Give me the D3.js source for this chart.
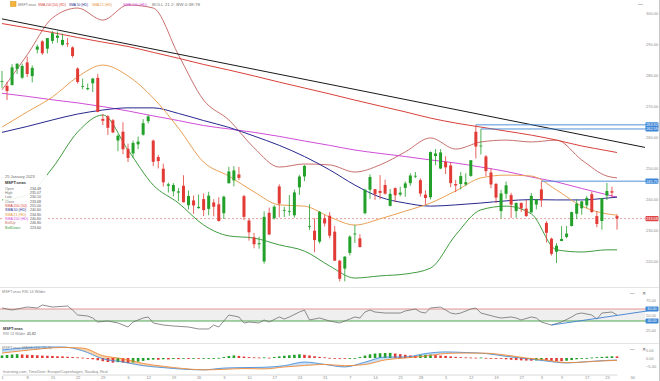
<!DOCTYPE html>
<html>
<head>
<meta charset="utf-8">
<script src="https://cdn.jsdelivr.net/npm/d3@7"></script>
<style>
body { margin: 0; background: #fff; }
svg { display: block; font-family: "Liberation Sans", Arial, sans-serif; }
</style>
</head>
<body>
<div id="chart"></div>
<script>
// daily candles, Aug 1 2022 .. Jan 25 2023  [open, high, low, close]
var ohlc = [
  [277.82,281.28,275.84,278.01],[276.48,277.82,271.94,274.82],[276.76,283.50,276.61,282.47],[281.97,283.72,280.32,283.65],
  [279.15,283.65,278.68,282.91],[284.05,285.92,279.32,280.32],[279.64,283.08,277.61,282.30],[288.17,289.81,286.94,289.16],
  [290.85,291.21,286.51,287.02],[288.48,291.91,286.94,291.91],[291.00,294.18,290.11,293.47],[291.99,294.04,290.42,292.71],
  [289.74,293.35,289.47,291.32],[290.19,291.91,289.08,290.17],[288.90,289.25,285.56,286.15],[282.08,282.46,277.22,277.75],
  [276.44,278.86,275.40,276.44],[275.41,277.23,275.11,275.79],[277.33,279.02,274.52,278.85],[279.08,280.34,267.98,268.09],
  [265.85,267.40,263.85,265.23],[266.67,267.05,260.66,262.97],[265.39,265.78,261.26,261.47],
  [258.87,260.89,255.41,260.40],[261.70,264.74,254.47,256.06],[256.20,257.83,251.94,253.25],[254.70,258.83,253.33,258.09],
  [257.63,260.15,256.06,258.52],[260.74,265.77,260.44,264.46],[265.10,267.04,264.37,266.65],[258.84,259.14,250.58,251.99],
  [253.53,254.22,249.86,252.22],[249.77,251.40,244.02,245.38],[244.26,245.30,242.06,244.74],[242.47,245.14,240.85,244.52],
  [242.07,243.51,239.31,242.45],[244.26,247.66,238.90,238.95],[237.99,242.74,236.64,240.98],[239.54,241.13,235.20,237.92],
  [237.05,241.45,236.90,237.45],[239.98,241.80,234.50,236.41],[236.81,242.33,234.73,241.07],[238.89,239.95,234.41,237.50],
  [238.29,240.54,232.73,232.90],
  [235.41,241.08,233.54,240.74],[245.09,250.36,244.98,248.88],[245.99,250.58,244.10,249.20],[247.93,250.35,246.08,246.79],
  [240.90,241.32,233.17,234.24],[233.05,233.69,226.56,229.25],[227.62,229.06,224.11,225.41],[225.40,227.86,223.96,225.75],
  [219.85,236.00,219.13,234.24],[235.54,237.24,228.34,228.56],[233.77,238.00,233.40,237.53],[244.06,244.74,234.07,238.50],
  [236.27,237.51,234.16,236.48],[235.99,241.31,234.60,236.15],[234.74,243.00,234.02,242.12],[243.76,247.84,241.30,247.25],
  [247.26,251.04,245.75,250.66],[231.17,238.30,230.06,231.32],[229.77,233.81,222.85,226.75],[226.24,236.12,225.64,235.87],
  [233.76,234.92,231.15,232.13],
  [234.60,235.74,227.33,228.17],[229.46,231.30,220.04,220.10],[220.09,220.41,213.43,214.25],[217.55,221.59,213.43,221.39],
  [222.60,228.29,221.80,227.87],[228.58,231.65,225.83,228.87],[227.31,228.63,224.33,224.51],[235.43,243.25,235.03,242.98],
  [242.99,247.99,240.05,247.11],[243.18,243.18,239.71,241.55],[242.60,247.70,239.94,241.97],[244.51,246.23,241.41,241.73],
  [237.78,243.25,237.63,241.68],[243.51,243.74,239.03,241.22],[241.43,243.93,240.88,242.05],[243.59,245.67,240.72,245.03],
  [245.11,248.28,244.27,247.58],[247.31,248.70,246.73,247.49],[246.08,246.65,240.80,241.76],[241.40,242.79,238.21,240.33],
  [240.57,255.33,239.86,255.14],
  [253.87,256.12,250.92,254.69],[249.82,256.06,249.69,255.02],[252.01,253.82,248.06,250.20],[250.82,251.86,243.78,245.12],
  [244.83,246.16,242.21,244.37],[244.84,248.74,243.06,247.40],[244.70,248.31,244.16,245.42],[247.45,252.54,247.17,252.51],
  [261.69,263.92,253.07,256.92],[257.13,262.59,254.31,257.22],[253.72,254.20,247.34,249.01],[248.55,249.84,243.51,244.69],
  [244.86,245.21,238.71,240.45],[236.11,242.91,233.74,241.80],[241.69,245.62,240.11,244.43],[241.26,241.99,233.87,238.19],
  [236.11,238.87,233.94,238.73],[238.70,238.93,235.83,236.96],[236.89,239.72,234.17,234.53],[235.65,241.92,235.65,241.01],
  [238.21,239.96,236.66,239.82],
  [243.08,245.75,237.40,239.58],[232.28,232.87,225.96,229.10],[227.20,227.55,221.76,222.31],[223.00,225.76,219.35,224.93],
  [226.45,231.24,226.41,227.12],[227.76,231.31,227.33,228.85],[231.29,235.95,231.11,235.77],[235.26,239.90,233.56,238.51],
  [237.00,239.37,234.92,239.23],[237.97,240.91,237.09,240.35],[241.57,242.38,235.52,235.81],[234.48,236.06,230.90,231.93],
  [232.90,240.34,230.10,240.22],[241.10,245.21,239.65,242.58],[242.50,243.95,240.44,242.04],[234.48,235.07,230.10,233.68]
];

// indicator lines, every 5th session
var smpIdx = [0,5,10,15,20,25,30,35,40,45,50,55,60,65,70,75,80,85,90,95,100,105,110,115,120,122];
var sma200 = [296.6,295.2,293.7,292.1,290.6,289.2,287.3,285.4,283.4,281.6,279.7,277.7,275.8,273.9,271.9,270.0,268.1,266.1,264.5,263.2,261.9,260.6,259.0,257.1,255.6,255.0];
var sma100 = [274.1,273.1,272.0,271.0,269.8,268.4,266.8,265.3,263.7,262.6,261.5,260.2,258.7,257.3,255.8,254.7,253.7,252.6,251.6,250.3,248.9,247.1,245.5,243.4,241.4,240.6];
var sma50 = [261.5,263.4,265.5,267.4,268.7,269.4,269.4,267.6,265.3,263.1,260.3,257.3,253.7,249.4,244.5,240.6,238.7,237.7,238.1,238.7,239.4,239.8,239.7,239.7,240.3,240.6];
var sma21 = [263.2,268.1,272.9,279.4,283.2,279.7,272.6,262.9,251.9,247.4,242.3,238.1,237.7,234.2,231.6,233.6,236.1,238.7,242.6,246.8,247.7,247.4,242.9,237.7,235.2,234.8];
var bollUp = [275.2,286.5,298.4,301.6,297.7,302.6,301.6,286.5,271.9,265.5,256.5,250.3,251.3,251.0,248.7,251.0,255.2,259.7,256.1,258.4,259.0,258.4,259.0,252.6,247.4,246.8];
var bollDown = [239.7,241.3,250.0,261.6,267.1,255.8,244.5,238.7,231.6,228.1,227.4,225.2,223.2,218.4,214.5,215.2,215.8,217.7,228.4,236.5,237.7,235.2,223.6,222.9,223.6,223.6];

var trendLine = [[0, 298.1], [128, 256.5]];
var levelStart = [94, 95, 107];
var levelValue = [263.92, 262.59, 245.75];
var lastPrice = 233.68;
var priceTicks = [220, 230, 240, 250, 260, 270, 280, 290, 300];

var tickIdx = [0,5,10,15,20,25,29,34,39,44,49,54,59,64,69,74,79,83,88,93,98,103,107,111,116,120,125];
var tickLabels = ["1","8","15","22","29","6","12","19","26","3","10","17","24","31","7","14","21","28","5","12","19","27","3","9","17","23","30"];

// RSI 14
var rsiIdx = [0,2,5,7,8,10,13,14,15,17,18,19,21,23,25,26,28,29,30,32,34,37,39,41,42,43,45,47,48,49,51,52,53,55,56,57,59,60,61,63,65,67,69,70,71,72,73,74,76,79,80,82,83,84,85,87,88,89,90,91,93,94,95,98,99,101,102,103,105,106,107,109,111,113,114,115,117,118,119,121,122];
var rsiVal = [61.7,58.3,63.3,61.7,66.7,63.3,65,58.3,50,48.3,45,38.3,40,36.7,30,38.3,45,46.7,36.7,33.3,31.7,30,26.7,26.7,33.3,30,50,46.7,36.7,38.3,36.7,41.7,38.3,46.7,43.3,46.7,55,58.3,41.7,45,40,36.7,43.3,46.7,45,55,58.3,55,53.3,53.3,56.7,60,55,53.3,61.7,63.3,58.3,53.3,51.7,53.3,60,61.7,53.3,46.7,45,46.7,45,41.7,46.7,45,38.3,33.3,38.3,46.7,51.7,53.3,50,43.3,53.3,55,50];
var rsiTrend = [[109, 33.3], [128, 56.7]];
var rsiTicks = [25, 50, 75];

// MACD 12 26 9
var macdIdx = [0,4,8,12,16,20,24,28,32,36,40,44,48,52,56,60,64,68,72,76,80,84,88,92,96,100,104,108,112,116,120,122];
var macdVal = [5.0,6.2,6.9,6.9,4.5,-0.5,-2.5,-4.8,-6.0,-7.0,-7.4,-6.3,-6.0,-5.8,-4.8,-2.5,-4.0,-5.6,-2.6,0.6,0.6,2.8,3.8,3.4,2.8,1.0,-0.4,-1.9,-3.1,-2.3,-1.5,-1.3];
var signalVal = [3.1,4.5,5.8,6.6,6.2,1.5,-0.5,-3.4,-5.2,-6.6,-7.4,-7.1,-6.6,-6.8,-5.6,-4.7,-4.0,-4.8,-4.1,-1.2,0.0,1.2,2.8,3.1,3.0,1.8,0.0,-1.3,-2.9,-2.4,-1.7,-1.5];
var histVal = [1.6,1.9,2.2,2.4,2.2,2.0,1.9,1.7,1.5,1.4,1.3,1.1,1.0,0.8,0.6,0.4,0.2,-0.3,-0.8,-1.4,
  -2.0,-2.5,-2.9,-2.6,-2.9,-3.2,-2.8,-2.3,-1.8,-1.3,-1.0,-1.1,-0.8,-0.9,-0.6,-0.7,-0.5,-0.6,-0.4,-0.5,
  -0.3,-0.2,-0.1,0.1,0.6,1.2,1.6,1.3,0.9,0.6,0.4,0.3,0.4,0.2,0.6,1.0,1.4,1.7,2.0,2.3,
  2.0,1.6,1.1,0.7,0.4,0.1,-0.2,-0.4,-0.5,-0.3,-0.1,0.6,1.5,2.3,2.8,3.0,3.1,3.2,2.8,2.4,
  2.0,1.6,1.3,1.8,2.0,2.1,1.8,1.5,1.3,1.0,0.7,0.5,0.4,0.3,0.2,0.3,0.1,0.0,-0.2,-0.5,
  -0.8,-1.1,-1.3,-1.5,-1.6,-1.7,-1.5,-1.3,-1.6,-1.8,-1.9,-2.0,-1.7,-1.3,-0.8,-0.4,0.0,0.3,0.5,0.7,
  0.9,1.1,1.0];
var macdTicks = [-5, 0, 5];

var upColor = "#22a02a", downColor = "#e23b36";

var svg = d3.select("#chart").append("svg")
  .attr("width", 660)
  .attr("height", 381);

svg.append("rect").attr("width", 660).attr("height", 381).attr("fill", "#fff");

var x = d3.scaleLinear().domain([0, 122]).range([2, 617]);
var y = d3.scaleLinear().domain([220, 300]).range([261, 13]);
var yRsi = d3.scaleLinear().domain([25, 75]).range([330, 300]);
var yMacd = d3.scaleLinear().domain([-5, 5]).range([366, 350]);

// panel separators
[287.5, 343.5].forEach(function(v) {
  svg.append("line").attr("x1", 0).attr("x2", 660).attr("y1", v).attr("y2", v)
    .attr("stroke", "#e4e4e4").attr("stroke-width", 1);
});
svg.append("line").attr("x1", 659.5).attr("x2", 659.5).attr("y1", 0).attr("y2", 381)
  .attr("stroke", "#c8c8c8");

// ---------- main price panel ----------
svg.append("clipPath").attr("id", "clipMain")
  .append("rect").attr("x", 0).attr("y", 0).attr("width", 645).attr("height", 286);
var main = svg.append("g").attr("clip-path", "url(#clipMain)");

function pts(vals) { return smpIdx.map(function(k, j) { return [k, vals[j]]; }); }
var priceLine = d3.line().x(d => x(d[0])).y(d => y(d[1])).curve(d3.curveMonotoneX);

// close price dashed line
main.append("line")
  .attr("x1", 0).attr("x2", 645)
  .attr("y1", y(lastPrice)).attr("y2", y(lastPrice))
  .attr("stroke", "#e58b8b").attr("stroke-width", 0.8).attr("stroke-dasharray", "2,2");

var lines = [
  { v: bollUp, c: "#c8706e" },
  { v: bollDown, c: "#3f9c3f" },
  { v: sma200, c: "#d9413b" },
  { v: sma100, c: "#d04ed6" },
  { v: sma50, c: "#27288f" },
  { v: sma21, c: "#eaa055" }
];
lines.forEach(function(l) {
  main.append("path").datum(pts(l.v))
    .attr("d", priceLine)
    .attr("fill", "none").attr("stroke", l.c).attr("stroke-width", 1);
});

main.append("path").datum(trendLine)
  .attr("d", d3.line().x(d => x(d[0])).y(d => y(d[1])))
  .attr("stroke", "#1a1a1a").attr("stroke-width", 1).attr("fill", "none");

// horizontal levels
levelStart.forEach(function(s, j) {
  svg.append("line")
    .attr("x1", x(s)).attr("x2", 658)
    .attr("y1", y(levelValue[j])).attr("y2", y(levelValue[j]))
    .attr("stroke", "#3d86d6").attr("stroke-width", 0.9);
});

// candles
main.selectAll("line.wick")
  .data(ohlc)
  .enter()
  .append("line")
  .attr("class", "wick")
  .attr("x1", (d, i) => x(i)).attr("x2", (d, i) => x(i))
  .attr("y1", d => y(d[1])).attr("y2", d => y(d[2]))
  .attr("stroke", d => d[3] >= d[0] ? upColor : downColor)
  .attr("stroke-width", 0.8);

main.selectAll("rect.body")
  .data(ohlc)
  .enter()
  .append("rect")
  .attr("class", "body")
  .attr("x", (d, i) => x(i) - 1.5)
  .attr("width", 3)
  .attr("y", d => y(Math.max(d[0], d[3])))
  .attr("height", d => Math.max(0.8, Math.abs(y(d[0]) - y(d[3]))))
  .attr("fill", d => d[3] >= d[0] ? upColor : downColor);

// price axis
var yAxis = d3.axisRight(y).tickValues(priceTicks).tickFormat(d3.format(".2f")).tickSize(0).tickPadding(0);
svg.append("g")
  .attr("transform", "translate(646,0)")
  .call(yAxis)
  .call(g => g.select(".domain").remove())
  .selectAll("text").attr("font-size", 4).attr("fill", "#8a8a8a");

function tag(yPos, label, color) {
  svg.append("rect").attr("x", 645.5).attr("y", yPos - 2.6).attr("width", 13).attr("height", 5.2)
    .attr("rx", 0.8).attr("fill", color);
  svg.append("text").attr("x", 652).attr("y", yPos + 1.4).attr("text-anchor", "middle")
    .attr("font-size", 3.8).attr("fill", "#fff").text(label);
}
levelValue.forEach(v => tag(y(v), v.toFixed(2), "#3d86d6"));
tag(y(lastPrice), lastPrice.toFixed(2), "#e04848");

// top legend row
svg.append("rect").attr("x", 10.5).attr("y", 1.5).attr("width", 5.5).attr("height", 5)
  .attr("fill", "#f3b23c").attr("stroke", "#d69010").attr("stroke-width", 0.5);
var topLegend = [
  { t: "MSFT:xnas", x: 18, w: 18, c: "#777" },
  { t: "SMA 200 (50) (RD)", x: 38, w: 28, c: "#d9413b" },
  { t: "SMA 50 (HD)", x: 69, w: 19, c: "#27288f" },
  { t: "SMA 21 (HD)", x: 92, w: 20, c: "#e69340" },
  { t: "SMA 100 (HD)", x: 123, w: 24, c: "#d04ed6" },
  { t: "BOLL 21 2; BW 0:38:78", x: 152, w: 48, c: "#777" }
];
topLegend.forEach(function(d) {
  svg.append("text").attr("x", d.x).attr("y", 5.8).attr("font-size", 3.6).attr("fill", d.c)
    .attr("textLength", d.w).attr("lengthAdjust", "spacingAndGlyphs").text(d.t);
});
svg.append("text").attr("x", 638).attr("y", 6).attr("font-size", 5).attr("fill", "#666").text("—");

// left data box
var last = ohlc[ohlc.length - 1];
svg.append("rect").attr("x", 3).attr("y", 173).attr("width", 44).attr("height", 58)
  .attr("fill", "#fff").attr("opacity", 0.9);
svg.append("text").attr("x", 1).attr("y", 178).attr("font-size", 4).attr("fill", "#888").text("-");
svg.append("text").attr("x", 5).attr("y", 178).attr("font-size", 4).attr("fill", "#666").text("25 January 2023");
svg.append("text").attr("x", 5).attr("y", 184).attr("font-size", 4).attr("font-weight", "bold").attr("fill", "#333").text("MSFT:xnas");
var rows = [
  ["Open", last[0], "#777"], ["High", last[1], "#777"], ["Low", last[2], "#777"], ["Close", last[3], "#777"],
  ["SMA 200 (50)", sma200[sma200.length - 1], "#d9413b"], ["SMA 50 (HD)", sma50[sma50.length - 1], "#27288f"],
  ["SMA 21 (HD)", sma21[sma21.length - 1], "#e69340"], ["SMA 100 (HD)", sma100[sma100.length - 1], "#d04ed6"],
  ["BollUp", bollUp[bollUp.length - 1], "#c8706e"], ["BollDown", bollDown[bollDown.length - 1], "#3f9c3f"]
];
rows.forEach(function(r, j) {
  var yy = 189.5 + j * 4.35;
  svg.append("text").attr("x", 5).attr("y", yy).attr("font-size", 3.6).attr("fill", r[2]).text(r[0]);
  svg.append("text").attr("x", 30).attr("y", yy).attr("font-size", 3.6).attr("fill", "#555").text(r[1].toFixed(2));
});

// ---------- RSI panel ----------
svg.append("rect").attr("x", 0).attr("width", 645)
  .attr("y", yRsi(60)).attr("height", yRsi(40) - yRsi(60)).attr("fill", "#efefef");
svg.append("line").attr("x1", 0).attr("x2", 658).attr("y1", yRsi(60)).attr("y2", yRsi(60))
  .attr("stroke", "#e58b8b").attr("stroke-width", 0.9);
svg.append("line").attr("x1", 0).attr("x2", 658).attr("y1", yRsi(40)).attr("y2", yRsi(40))
  .attr("stroke", "#3f9c3f").attr("stroke-width", 0.9);

svg.append("path")
  .datum(rsiIdx.map((k, j) => [k, rsiVal[j]]))
  .attr("d", d3.line().x(d => x(d[0])).y(d => yRsi(d[1])))
  .attr("fill", "none").attr("stroke", "#707070").attr("stroke-width", 0.8);

svg.append("path").datum(rsiTrend)
  .attr("d", d3.line().x(d => x(d[0])).y(d => yRsi(d[1])))
  .attr("fill", "none").attr("stroke", "#3d7fd0").attr("stroke-width", 0.9);

svg.append("g")
  .attr("transform", "translate(646,0)")
  .call(d3.axisRight(yRsi).tickValues(rsiTicks).tickFormat(d3.format(".2f")).tickSize(0).tickPadding(0))
  .call(g => g.select(".domain").remove())
  .selectAll("text").attr("font-size", 4).attr("fill", "#8a8a8a");
function rsiTag(v) {
  svg.append("rect").attr("x", 645.5).attr("y", yRsi(v) - 2.4).attr("width", 13).attr("height", 4.8)
    .attr("rx", 0.8).attr("fill", "#3d86d6");
  svg.append("text").attr("x", 652).attr("y", yRsi(v) + 1.4).attr("text-anchor", "middle")
    .attr("font-size", 3.6).attr("fill", "#fff").text(v.toFixed(2));
}
rsiTag(60);
rsiTag(40);

svg.append("text").attr("x", 2).attr("y", 292.5).attr("font-size", 3.8).attr("fill", "#888").text("MSFT:xnas  RSI 14 Wilder");
svg.append("text").attr("x", 3).attr("y", 329.5).attr("font-size", 3.8).attr("font-weight", "bold").attr("fill", "#333").text("MSFT:xnas");
svg.append("text").attr("x", 3).attr("y", 334.5).attr("font-size", 3.6).attr("fill", "#888").text("RSI 14 Wilder");
svg.append("text").attr("x", 27).attr("y", 334.5).attr("font-size", 3.6).attr("fill", "#444").text("45.82");
svg.append("text").attr("x", 630).attr("y", 295).attr("font-size", 4.5).attr("fill", "#666").text("—");
svg.append("text").attr("x", 642).attr("y", 295).attr("font-size", 4.5).attr("fill", "#666").text("✕");

// ---------- MACD panel ----------
var macdPts = macdIdx.map((k, j) => ({ i: k, m: macdVal[j], s: signalVal[j] }));

svg.append("clipPath").attr("id", "clipAbove").append("path").datum(macdPts)
  .attr("d", d3.area().x(d => x(d.i)).y0(340).y1(d => yMacd(d.s)).curve(d3.curveMonotoneX));
svg.append("clipPath").attr("id", "clipBelow").append("path").datum(macdPts)
  .attr("d", d3.area().x(d => x(d.i)).y0(372).y1(d => yMacd(d.s)).curve(d3.curveMonotoneX));

var between = d3.area().x(d => x(d.i)).y0(d => yMacd(d.s)).y1(d => yMacd(d.m)).curve(d3.curveMonotoneX);
svg.append("path").datum(macdPts).attr("d", between).attr("fill", "#c9def4").attr("clip-path", "url(#clipAbove)");
svg.append("path").datum(macdPts).attr("d", between).attr("fill", "#f9d3ae").attr("clip-path", "url(#clipBelow)");

svg.selectAll("rect.hist")
  .data(histVal)
  .enter()
  .append("rect")
  .attr("class", "hist")
  .attr("x", (d, i) => x(i) - 1.3)
  .attr("width", 2.6)
  .attr("y", d => d >= 0 ? yMacd(d) : yMacd(0))
  .attr("height", d => Math.max(0.8, Math.abs(yMacd(d) - yMacd(0))))
  .attr("fill", (d, i) => (i === 0 || d >= histVal[i - 1]) ? upColor : downColor);

svg.append("path").datum(macdPts)
  .attr("d", d3.line().x(d => x(d.i)).y(d => yMacd(d.m)).curve(d3.curveMonotoneX))
  .attr("fill", "none").attr("stroke", "#4a90d9").attr("stroke-width", 0.9);
svg.append("path").datum(macdPts)
  .attr("d", d3.line().x(d => x(d.i)).y(d => yMacd(d.s)).curve(d3.curveMonotoneX))
  .attr("fill", "none").attr("stroke", "#ef8a35").attr("stroke-width", 0.9);

svg.append("g")
  .attr("transform", "translate(646,0)")
  .call(d3.axisRight(yMacd).tickValues(macdTicks).tickFormat(d3.format(".2f")).tickSize(0).tickPadding(0))
  .call(g => g.select(".domain").remove())
  .selectAll("text").attr("font-size", 4).attr("fill", "#8a8a8a");

svg.append("text").attr("x", 2).attr("y", 348.5).attr("font-size", 3.8).attr("fill", "#888").text("MSFT:xnas  MACD (12, 26, 9)");
svg.append("text").attr("x", 630).attr("y", 351).attr("font-size", 4.5).attr("fill", "#666").text("—");
svg.append("text").attr("x", 642).attr("y", 351).attr("font-size", 4.5).attr("fill", "#666").text("✕");

// ---------- bottom ----------
svg.append("text").attr("x", 3).attr("y", 372.5).attr("font-size", 3.8).attr("fill", "#888")
  .text("Investing.com, TimeZone: Europe/Copenhagen, Nasdaq, Real");

var xAxis = d3.axisBottom(x).tickValues(tickIdx).tickFormat((d, i) => tickLabels[i]).tickSize(0).tickPadding(1.5);
svg.append("g")
  .attr("transform", "translate(0,374.5)")
  .call(xAxis)
  .call(g => g.select(".domain").attr("stroke", "#d8d8d8"))
  .selectAll("text").attr("font-size", 4).attr("fill", "#8a8a8a");
</script>
</body>
</html>
